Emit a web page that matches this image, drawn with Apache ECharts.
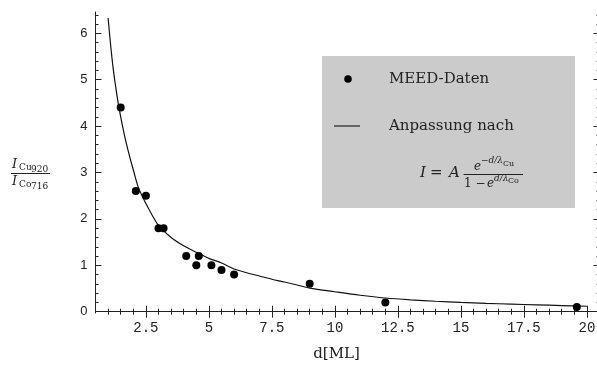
<!DOCTYPE html>
<html>
<head>
<meta charset="utf-8">
<script src="https://cdn.jsdelivr.net/npm/echarts@6/dist/echarts.min.js"></script>
<style>html,body{margin:0;padding:0;background:#fff;}#c{width:597px;height:368px;}</style>
</head>
<body>
<div id="c"></div>
<script>
// ---- data ----
const dataD = [1.5, 2.1, 2.5, 3.0, 3.2, 4.1, 4.5, 4.6, 5.1, 5.5, 6.0, 9.0, 12.0, 19.6];
const dataI = [4.4, 2.6, 2.5, 1.8, 1.8, 1.2, 1.0, 1.2, 1.0, 0.9, 0.8, 0.6, 0.2, 0.1];
const fitD = [1.0, 1.1, 1.2, 1.3, 1.4, 1.5, 1.6, 1.7, 1.8, 1.9, 2.0, 2.2, 2.5, 2.75, 3.0, 3.5, 4.0, 4.5, 5.0, 5.5, 6.0, 6.5, 7.0, 7.5, 8.0, 8.5, 9.0, 10, 11, 12, 13, 14, 15, 16, 17, 18, 19, 20];
const fitI = [6.33, 5.75, 5.25, 4.85, 4.5, 4.2, 3.93, 3.68, 3.46, 3.25, 3.06, 2.68, 2.33, 2.08, 1.86, 1.6, 1.42, 1.28, 1.15, 1.05, 0.92, 0.84, 0.77, 0.70, 0.64, 0.575, 0.51, 0.43, 0.355, 0.295, 0.255, 0.225, 0.2, 0.18, 0.163, 0.148, 0.132, 0.118];
const xTickLabels = [2.5, 5, 7.5, 10, 12.5, 15, 17.5, 20];
const yTickLabels = [0, 1, 2, 3, 4, 5, 6];
const xMinorStep = 0.5, yMinorStep = 0.2;
const legendPoints = 'MEED-Daten';
const legendFit = 'Anpassung nach';
const xTitle = 'd[ML]';

// ---- build ----
const xMin = 0.5, xMax = 20.5, yMin = -0.028, yMax = 6.46;
const xMinor = [];
for (let i = 1; xMin + i * xMinorStep < xMax + 1e-9; i++) xMinor.push(+(xMin + i * xMinorStep).toFixed(2));
const yMinor = [];
for (let v = 0; v <= yMax + 1e-9; v += yMinorStep) yMinor.push(+v.toFixed(2));

const ink = '#222';
const serif = 'DejaVu Serif';
function xAx(pos, major, labels) {
  return {
    type: 'value', min: xMin, max: xMax, position: pos,
    axisLine: { show: major, lineStyle: { color: ink, width: 1 } },
    axisTick: { show: true, inside: true, length: major ? 6 : 3, customValues: major ? xTickLabels : xMinor, lineStyle: { color: ink, width: 1 } },
    axisLabel: labels ? { show: true, customValues: xTickLabels, fontFamily: 'Liberation Mono', fontSize: 14, color: ink, margin: 8 } : { show: false },
    splitLine: { show: false }
  };
}
function yAx(pos, major, labels) {
  return {
    type: 'value', min: yMin, max: yMax, position: pos,
    axisLine: { show: major, lineStyle: { color: ink, width: 1 } },
    axisTick: { show: true, inside: true, length: major ? 6 : 3, customValues: major ? yTickLabels : yMinor, lineStyle: { color: ink, width: 1 } },
    axisLabel: labels ? { show: true, customValues: yTickLabels, fontFamily: 'Liberation Sans', fontSize: 13, color: ink, margin: 8 } : { show: false },
    splitLine: { show: false }
  };
}

const chart = echarts.init(document.getElementById('c'), null, { renderer: 'canvas' });
const t = (x, y, text, size, extra) => ({
  type: 'text', x: x, y: y, z: 100,
  style: Object.assign({ text: text, fontFamily: serif, fontSize: size, fill: ink, verticalAlign: 'middle', align: 'left' }, extra || {})
});
const it = { fontStyle: 'italic' };

chart.setOption({
  animation: false,
  backgroundColor: '#fff',
  grid: { left: 95.5, top: 12, width: 504, height: 301, containLabel: false, outerBoundsMode: 'none' },
  xAxis: [xAx('bottom', true, true), xAx('bottom', false, false), xAx('top', true, false), xAx('top', false, false)],
  yAxis: [yAx('left', true, true), yAx('left', false, false), yAx('right', true, false), yAx('right', false, false)],
  series: [
    {
      type: 'line', xAxisIndex: 0, yAxisIndex: 0, showSymbol: false, smooth: 0.3,
      lineStyle: { color: '#111', width: 1.2 }, z: 2,
      data: fitD.map((d, i) => [d, fitI[i]])
    },
    {
      type: 'scatter', xAxisIndex: 0, yAxisIndex: 0, symbol: 'circle', symbolSize: 8,
      itemStyle: { color: '#000', opacity: 1 }, z: 3,
      data: dataD.map((d, i) => [d, dataI[i]])
    }
  ],
  graphic: [
    // legend box
    { type: 'rect', shape: { x: 322, y: 56, width: 253, height: 152 }, style: { fill: '#cbcbcb' }, z: 90 },
    { type: 'circle', shape: { cx: 348, cy: 79, r: 3.8 }, style: { fill: '#000' }, z: 100 },
    { type: 'line', shape: { x1: 334, y1: 126, x2: 360, y2: 126 }, style: { stroke: '#222', lineWidth: 1.2 }, z: 100 },
    t(389, 79, legendPoints, 15),
    t(389, 126, legendFit, 15),
    // formula I = A e^{-d/λCu} / (1 - e^{d/λCo})
    t(420, 173, 'I', 15, it),
    t(430, 173, '=', 15),
    t(449, 173, 'A', 15, it),
    { type: 'line', shape: { x1: 463.5, y1: 174.5, x2: 523, y2: 174.5 }, style: { stroke: ink, lineWidth: 1 }, z: 100 },
    t(474, 167, 'e', 12, it),
    t(481, 161, '−d/λ', 9, it),
    t(503, 163.5, 'Cu', 8),
    t(464, 184, '1 − ', 12),
    t(487, 184, 'e', 12, it),
    t(494, 178.5, 'd/λ', 9, it),
    t(508, 181, 'Co', 8),
    // y axis title (fraction)
    t(12, 165, 'I', 13, it),
    t(19, 168, 'Cu', 9),
    t(31, 170, '920', 9),
    { type: 'line', shape: { x1: 11, y1: 173.5, x2: 50, y2: 173.5 }, style: { stroke: ink, lineWidth: 1 }, z: 100 },
    t(12, 182, 'I', 13, it),
    t(19, 185, 'Co', 9),
    t(31, 187, '716', 9),
    // x axis title
    t(336.5, 354, xTitle, 15, { align: 'center' })
  ]
});
</script>
</body>
</html>
